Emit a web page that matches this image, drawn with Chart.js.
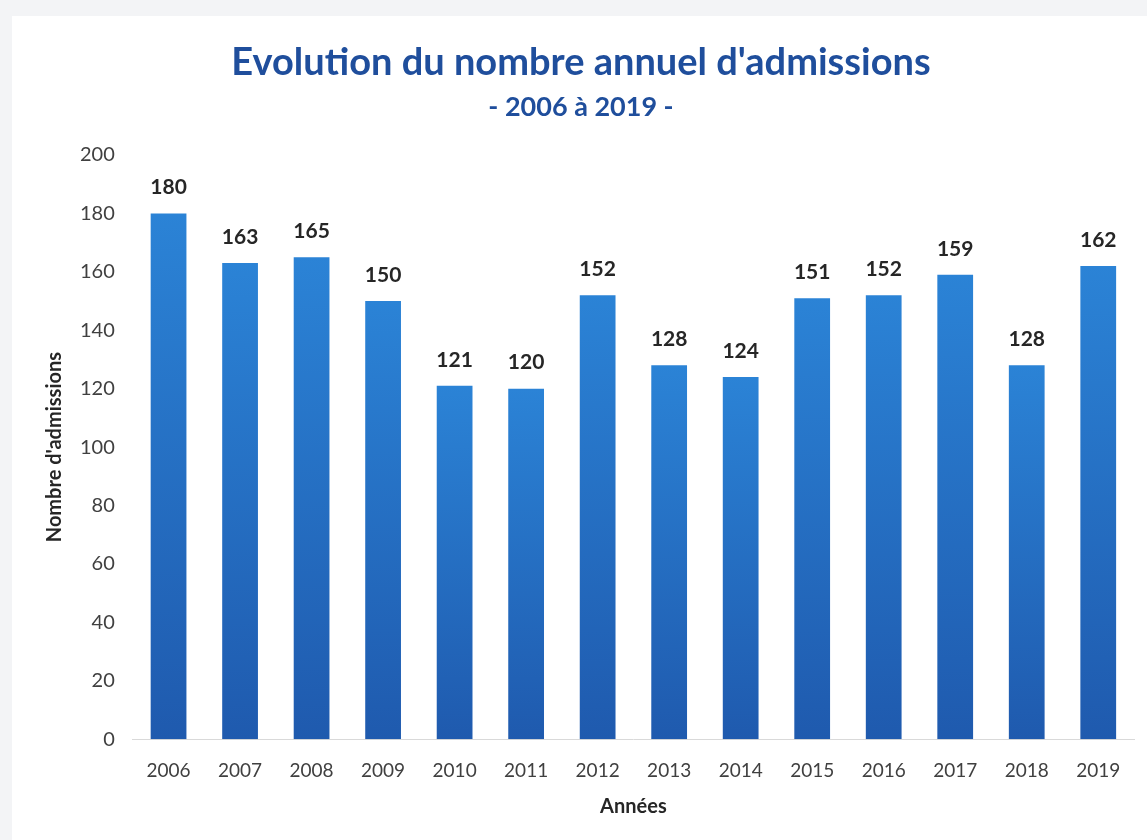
<!DOCTYPE html>
<html>
<head>
<meta charset="utf-8">
<script src="https://cdn.jsdelivr.net/npm/chart.js@4/dist/chart.umd.min.js"></script>
<style>
  html, body { margin: 0; padding: 0; background: #f3f4f6; }
  #wrap { position: absolute; left: 12px; top: 16px; width: 1135px; height: 824px; background: #ffffff; }
  canvas { display: block; }
</style>
</head>
<body>
<div id="wrap"><canvas id="chart" width="1135" height="824"></canvas></div>
<script>
'use strict';

// years on the x axis
const years = ['2006', '2007', '2008', '2009', '2010', '2011', '2012',
               '2013', '2014', '2015', '2016', '2017', '2018', '2019'];

// admissions per year
const admissions = [180, 163, 165, 150, 121, 120, 152, 128, 124, 151, 152, 159, 128, 162];

const titleText = "Evolution du nombre annuel d'admissions";
const subtitleText = '- 2006 à 2019 -';
const yTitle = "Nombre d'admissions";
const xTitle = 'Années';

const font = 'Lato';

// gradient for each bar, lighter at the top
function barGradient(context) {
    const chart = context.chart;
    const area = chart.chartArea;
    if (!area || context.type !== 'data') {
        return '#2470c4';
    }
    const y = chart.scales.y;
    const top = y.getPixelForValue(context.raw);
    const bottom = y.getPixelForValue(0);
    const g = chart.ctx.createLinearGradient(0, top, 0, bottom);
    g.addColorStop(0, '#2b83d6');
    g.addColorStop(1, '#1f5aae');
    return g;
}

// value on top of each bar (no datalabels plugin here)
const valueLabels = {
    id: 'valueLabels',
    afterDatasetsDraw(chart) {
        const ctx = chart.ctx;
        const meta = chart.getDatasetMeta(0);
        ctx.save();
        ctx.font = 'bold 21px ' + font;
        ctx.fillStyle = '#262626';
        ctx.textAlign = 'center';
        ctx.textBaseline = 'middle';
        meta.data.forEach((bar, i) => {
            ctx.fillText(String(chart.data.datasets[0].data[i]), bar.x, bar.y - 26);
        });
        ctx.restore();
    }
};

const chart = new Chart(document.getElementById('chart'), {
    type: 'bar',
    data: {
        labels: years,
        datasets: [{
            label: yTitle,
            data: admissions,
            backgroundColor: barGradient,
            borderWidth: 0,
            categoryPercentage: 1,
            barPercentage: 0.5
        }]
    },
    plugins: [valueLabels],
    options: {
        responsive: false,
        animation: false,
        layout: { padding: { top: 24, right: 13, bottom: 21, left: 16 } },
        plugins: {
            legend: { display: false },
            tooltip: { enabled: false },
            title: {
                display: true,
                text: titleText,
                color: '#1f4e9c',
                font: { family: font, size: 38, weight: 'bold' },
                padding: { top: 0, bottom: 5 }
            },
            subtitle: {
                display: true,
                text: subtitleText,
                color: '#1f4e9c',
                font: { family: font, size: 27, weight: 'bold' },
                padding: { top: 0, bottom: 32 }
            }
        },
        scales: {
            x: {
                grid: { display: false, drawTicks: false },
                border: { display: true, color: '#d9d9d9', width: 1 },
                ticks: {
                    color: '#404040',
                    font: { family: font, size: 19 },
                    padding: 20
                },
                title: {
                    display: true,
                    text: xTitle,
                    color: '#262626',
                    font: { family: font, size: 20, weight: 'bold' },
                    padding: { top: -7, bottom: 0 }
                }
            },
            y: {
                min: 0,
                max: 200,
                grid: { display: false, drawTicks: false },
                border: { display: false },
                ticks: {
                    stepSize: 20,
                    color: '#404040',
                    font: { family: font, size: 20 },
                    padding: 18
                },
                title: {
                    display: true,
                    text: yTitle,
                    color: '#262626',
                    font: { family: font, size: 20, weight: 'bold' },
                    padding: { top: 15, bottom: -5 }
                }
            }
        }
    }
});
</script>
</body>
</html>
